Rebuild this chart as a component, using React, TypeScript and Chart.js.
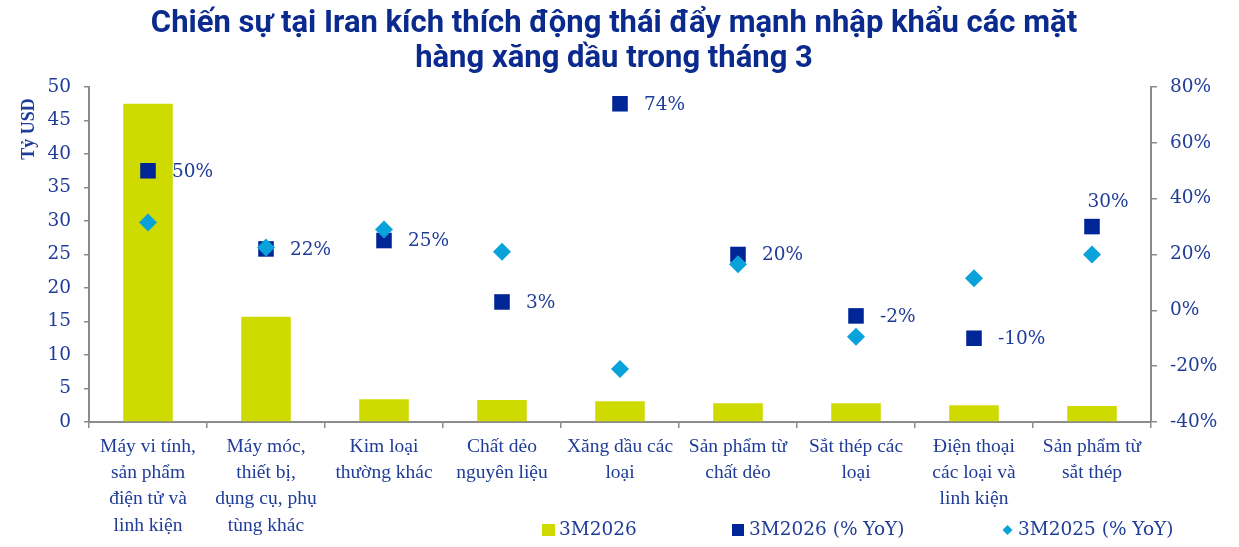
import React, { useEffect, useRef } from 'react';
import { Chart, registerables } from 'chart.js';

Chart.register(...registerables);

const titleLines = [
  'Chiến sự tại Iran kích thích động thái đẩy mạnh nhập khẩu các mặt',
  'hàng xăng dầu trong tháng 3',
];

const categories: string[][] = [
  ['Máy vi tính,', 'sản phẩm', 'điện tử và', 'linh kiện'],
  ['Máy móc,', 'thiết bị,', 'dụng cụ, phụ', 'tùng khác'],
  ['Kim loại', 'thường khác'],
  ['Chất dẻo', 'nguyên liệu'],
  ['Xăng dầu các', 'loại'],
  ['Sản phẩm từ', 'chất dẻo'],
  ['Sắt thép các', 'loại'],
  ['Điện thoại', 'các loại và', 'linh kiện'],
  ['Sản phẩm từ', 'sắt thép'],
];

const value3M2026 = [47.5, 15.7, 3.4, 3.3, 3.1, 2.8, 2.8, 2.5, 2.4];
const yoy3M2026 = [50, 22, 25, 3, 74, 20, -2, -10, 30];
const yoy3M2025 = [31.5, 22.5, 29, 21, -21, 16.5, -9.5, 11.5, 20];

const seriesNames = ['3M2026', '3M2026 (% YoY)', '3M2025 (% YoY)'];
const leftAxisTitle = 'Tỷ USD';

const BAR = '#cfdb00';
const NAVY = '#002596';
const CYAN = '#0aa2da';
const TEXT = '#1f3c98';
const TITLE = '#0b2a8e';
const AXIS = '#8c8c8c';
const SERIF = '"Liberation Serif", "DejaVu Serif", serif';
const NUMSERIF = '"DejaVu Serif", "Liberation Serif", serif';
const SANS = 'Roboto, "Noto Sans", sans-serif';

const overlayPlugin = {
  id: 'overlay',
  afterDatasetsDraw(chart: any) {
    const ctx = chart.ctx;
    const meta = chart.getDatasetMeta(1);
    ctx.save();
    ctx.font = `18.5px ${NUMSERIF}`;
    ctx.fillStyle = TEXT;
    ctx.textBaseline = 'middle';
    meta.data.forEach((pt: any, i: number) => {
      const txt = `${yoy3M2026[i]}%`;
      if (i === yoy3M2026.length - 1) {
        ctx.textAlign = 'center';
        ctx.fillText(txt, pt.x + 16, pt.y - 24);
      } else {
        ctx.textAlign = 'left';
        ctx.fillText(txt, pt.x + 24, pt.y + 1);
      }
    });
    ctx.restore();
  },
  afterDraw(chart: any) {
    const ctx = chart.ctx;
    ctx.save();
    // title
    ctx.font = `bold 31px ${SANS}`;
    ctx.fillStyle = TITLE;
    ctx.textAlign = 'center';
    ctx.textBaseline = 'alphabetic';
    ctx.fillText(titleLines[0], 614, 32);
    ctx.fillText(titleLines[1], 614, 67);
    // left axis title
    ctx.translate(29, 129);
    ctx.rotate(-Math.PI / 2);
    ctx.textBaseline = 'middle';
    ctx.font = `bold 18px ${SERIF}`;
    ctx.fillStyle = TEXT;
    ctx.fillText(leftAxisTitle, 0, 0);
    ctx.restore();

    // legend
    ctx.save();
    ctx.font = `18.5px ${NUMSERIF}`;
    ctx.textAlign = 'left';
    ctx.textBaseline = 'middle';
    const ly = 530;
    ctx.fillStyle = BAR;
    ctx.fillRect(542, ly - 6, 13, 12);
    ctx.fillStyle = TEXT;
    ctx.fillText(seriesNames[0], 559, ly);
    ctx.fillStyle = NAVY;
    ctx.fillRect(732, ly - 6, 12, 12);
    ctx.fillStyle = TEXT;
    ctx.fillText(seriesNames[1], 749, ly);
    ctx.fillStyle = CYAN;
    ctx.beginPath();
    ctx.moveTo(1007.5, ly - 5);
    ctx.lineTo(1012.5, ly);
    ctx.lineTo(1007.5, ly + 5);
    ctx.lineTo(1002.5, ly);
    ctx.closePath();
    ctx.fill();
    ctx.fillStyle = TEXT;
    ctx.fillText(seriesNames[2], 1018, ly);
    ctx.restore();
  },
};

export default function App() {
  const ref = useRef<HTMLCanvasElement | null>(null);

  useEffect(() => {
    if (!ref.current) return;
    const chart = new Chart(ref.current, {
      type: 'bar',
      data: {
        labels: categories,
        datasets: [
          {
            type: 'bar',
            label: seriesNames[0],
            data: value3M2026,
            backgroundColor: BAR,
            yAxisID: 'y',
            barPercentage: 0.84,
            categoryPercentage: 0.5,
            order: 3,
          },
          {
            type: 'line',
            label: seriesNames[1],
            data: yoy3M2026,
            yAxisID: 'y1',
            showLine: false,
            pointStyle: 'rect',
            pointRadius: 11,
            pointHoverRadius: 11,
            backgroundColor: NAVY,
            borderColor: NAVY,
            borderWidth: 0,
            order: 2,
          },
          {
            type: 'line',
            label: seriesNames[2],
            data: yoy3M2025,
            yAxisID: 'y1',
            showLine: false,
            pointStyle: 'rectRot',
            pointRadius: 9,
            pointHoverRadius: 9,
            backgroundColor: CYAN,
            borderColor: CYAN,
            borderWidth: 0,
            order: 1,
          },
        ] as any,
      },
      options: {
        animation: false,
        responsive: false,
        maintainAspectRatio: false,
        layout: { padding: { top: 87, left: 0, right: 0, bottom: 0 } },
        plugins: {
          legend: { display: false },
          title: { display: false },
          tooltip: { enabled: false },
        },
        scales: {
          x: {
            offset: true,
            grid: {
              offset: true,
              drawOnChartArea: false,
              drawTicks: true,
              tickLength: 6,
              color: AXIS,
              lineWidth: 1.5,
            },
            border: { color: AXIS, width: 2 },
            ticks: {
              color: TEXT,
              font: { family: SERIF, size: 19.5, lineHeight: 1.34 },
              padding: 6,
              maxRotation: 0,
              autoSkip: false,
            },
            afterFit(scale: any) {
              scale.height = 125;
            },
          },
          y: {
            position: 'left',
            min: 0,
            max: 50,
            grid: {
              drawOnChartArea: false,
              drawTicks: true,
              tickLength: 5,
              color: AXIS,
              lineWidth: 1.5,
            },
            border: { color: AXIS, width: 2 },
            ticks: {
              stepSize: 5,
              color: TEXT,
              font: { family: NUMSERIF, size: 18.5 },
              padding: 13,
            },
            afterFit(scale: any) {
              scale.width = 89;
            },
          },
          y1: {
            position: 'right',
            min: -40,
            max: 80,
            grid: {
              drawOnChartArea: false,
              drawTicks: true,
              tickLength: 6,
              color: AXIS,
              lineWidth: 1.5,
            },
            border: { color: AXIS, width: 2 },
            ticks: {
              stepSize: 20,
              color: TEXT,
              font: { family: NUMSERIF, size: 18.5 },
              padding: 13,
              callback: (v: any) => `${v}%`,
            },
            afterFit(scale: any) {
              scale.width = 88;
            },
          },
        },
      } as any,
      plugins: [overlayPlugin],
    });
    return () => chart.destroy();
  }, []);

  return (
    <div style={{ position: 'fixed', left: 0, top: 0, width: 1239, height: 547, background: '#fff' }}>
      <canvas ref={ref} width={1239} height={547} style={{ width: 1239, height: 547 }} />
    </div>
  );
}
